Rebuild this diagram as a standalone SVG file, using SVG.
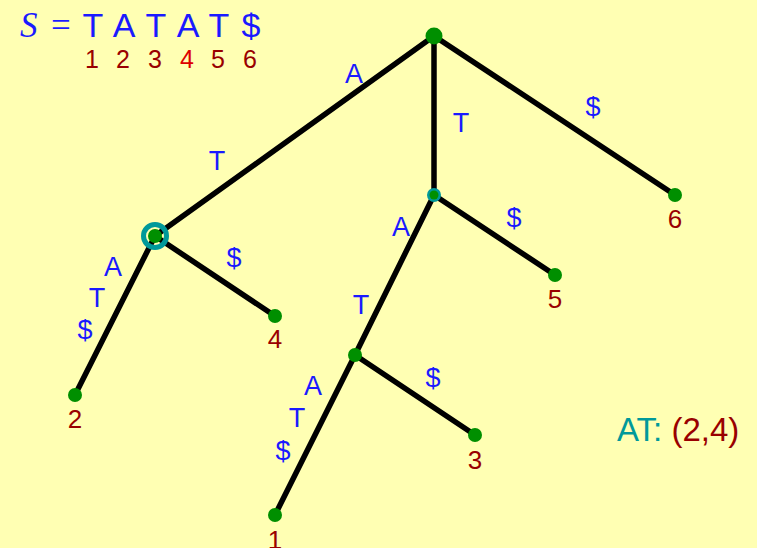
<svg xmlns="http://www.w3.org/2000/svg" width="757" height="548" viewBox="0 0 757 548">
<style>
.e{stroke:#000;stroke-width:5.5;fill:none;stroke-linecap:round}
.n{fill:#008f00}
.lab{font-family:"Liberation Sans","DejaVu Sans",sans-serif;font-size:27px;fill:#1a1aff;text-anchor:middle}
.leaf{font-family:"Liberation Sans","DejaVu Sans",sans-serif;font-size:26px;fill:#990000;text-anchor:middle}
.ring{fill:none;stroke:#00999a}
</style>
<rect width="757" height="548" fill="#ffffb3"/>
<g id="header">
<text x="20" y="37" font-family="'Liberation Serif',serif" font-style="italic" font-size="35" fill="#1a1aff">S</text>
<text x="51" y="37" font-family="'Liberation Serif',serif" font-size="35" fill="#1a1aff">=</text>
<g font-family="'Liberation Sans','DejaVu Sans',sans-serif" font-size="34" fill="#1a1aff" text-anchor="middle">
<text x="93" y="37">T</text><text x="124" y="37">A</text><text x="156" y="37">T</text><text x="188" y="37">A</text><text x="219" y="37">T</text><text x="251" y="37">$</text>
</g>
<g font-family="'Liberation Sans','DejaVu Sans',sans-serif" font-size="25" fill="#990000" text-anchor="middle">
<text x="92" y="68">1</text><text x="123" y="68">2</text><text x="155" y="68">3</text><text x="187" y="68" fill="#dd0000">4</text><text x="218" y="68">5</text><text x="250" y="68">6</text>
</g>
</g>
<g id="edges">
<line class="e" x1="434" y1="36" x2="155" y2="236"/>
<line class="e" x1="434" y1="36" x2="434" y2="195"/>
<line class="e" x1="434" y1="36" x2="675" y2="195"/>
<line class="e" x1="155" y1="236" x2="75" y2="395"/>
<line class="e" x1="155" y1="236" x2="275" y2="316"/>
<line class="e" x1="434" y1="195" x2="555" y2="275"/>
<line class="e" x1="434" y1="195" x2="355" y2="355"/>
<line class="e" x1="355" y1="355" x2="475" y2="435"/>
<line class="e" x1="355" y1="355" x2="275" y2="515"/>
</g>
<g id="edge-labels">
<text class="lab" x="354" y="83">A</text>
<text class="lab" x="217" y="170">T</text>
<text class="lab" x="461" y="132">T</text>
<text class="lab" x="593" y="116">$</text>
<text class="lab" x="113" y="276">A</text>
<text class="lab" x="97" y="307">T</text>
<text class="lab" x="85" y="339">$</text>
<text class="lab" x="234" y="267">$</text>
<text class="lab" x="514" y="227">$</text>
<text class="lab" x="401" y="236">A</text>
<text class="lab" x="361" y="314">T</text>
<text class="lab" x="433" y="387">$</text>
<text class="lab" x="313" y="395">A</text>
<text class="lab" x="297" y="427">T</text>
<text class="lab" x="283" y="460">$</text>
</g>
<g id="root"><circle class="n" cx="434" cy="36" r="8.5"/></g>
<g id="node-A"><circle class="ring" cx="155" cy="236" r="11.5" stroke-width="5"/><circle class="n" cx="155" cy="236" r="7"/></g>
<g id="node-T"><circle cx="434" cy="195" r="7" fill="#00999a"/><circle class="n" cx="434" cy="195" r="4.5"/></g>
<g id="node-TA"><circle class="n" cx="355" cy="355" r="7"/></g>
<g id="leaf-1"><circle class="n" cx="275" cy="515" r="7"/><text class="leaf" x="275" y="549">1</text></g>
<g id="leaf-2"><circle class="n" cx="75" cy="395" r="7"/><text class="leaf" x="75" y="428">2</text></g>
<g id="leaf-3"><circle class="n" cx="475" cy="435" r="7"/><text class="leaf" x="475" y="469">3</text></g>
<g id="leaf-4"><circle class="n" cx="275" cy="316" r="7"/><text class="leaf" x="275" y="348">4</text></g>
<g id="leaf-5"><circle class="n" cx="555" cy="275" r="7"/><text class="leaf" x="555" y="308">5</text></g>
<g id="leaf-6"><circle class="n" cx="675" cy="195" r="7"/><text class="leaf" x="675" y="228">6</text></g>
<g id="answer" font-family="'Liberation Sans','DejaVu Sans',sans-serif" font-size="33">
<text x="617" y="441"><tspan fill="#00999a">AT: </tspan><tspan fill="#990000">(2,4)</tspan></text>
</g>
</svg>
